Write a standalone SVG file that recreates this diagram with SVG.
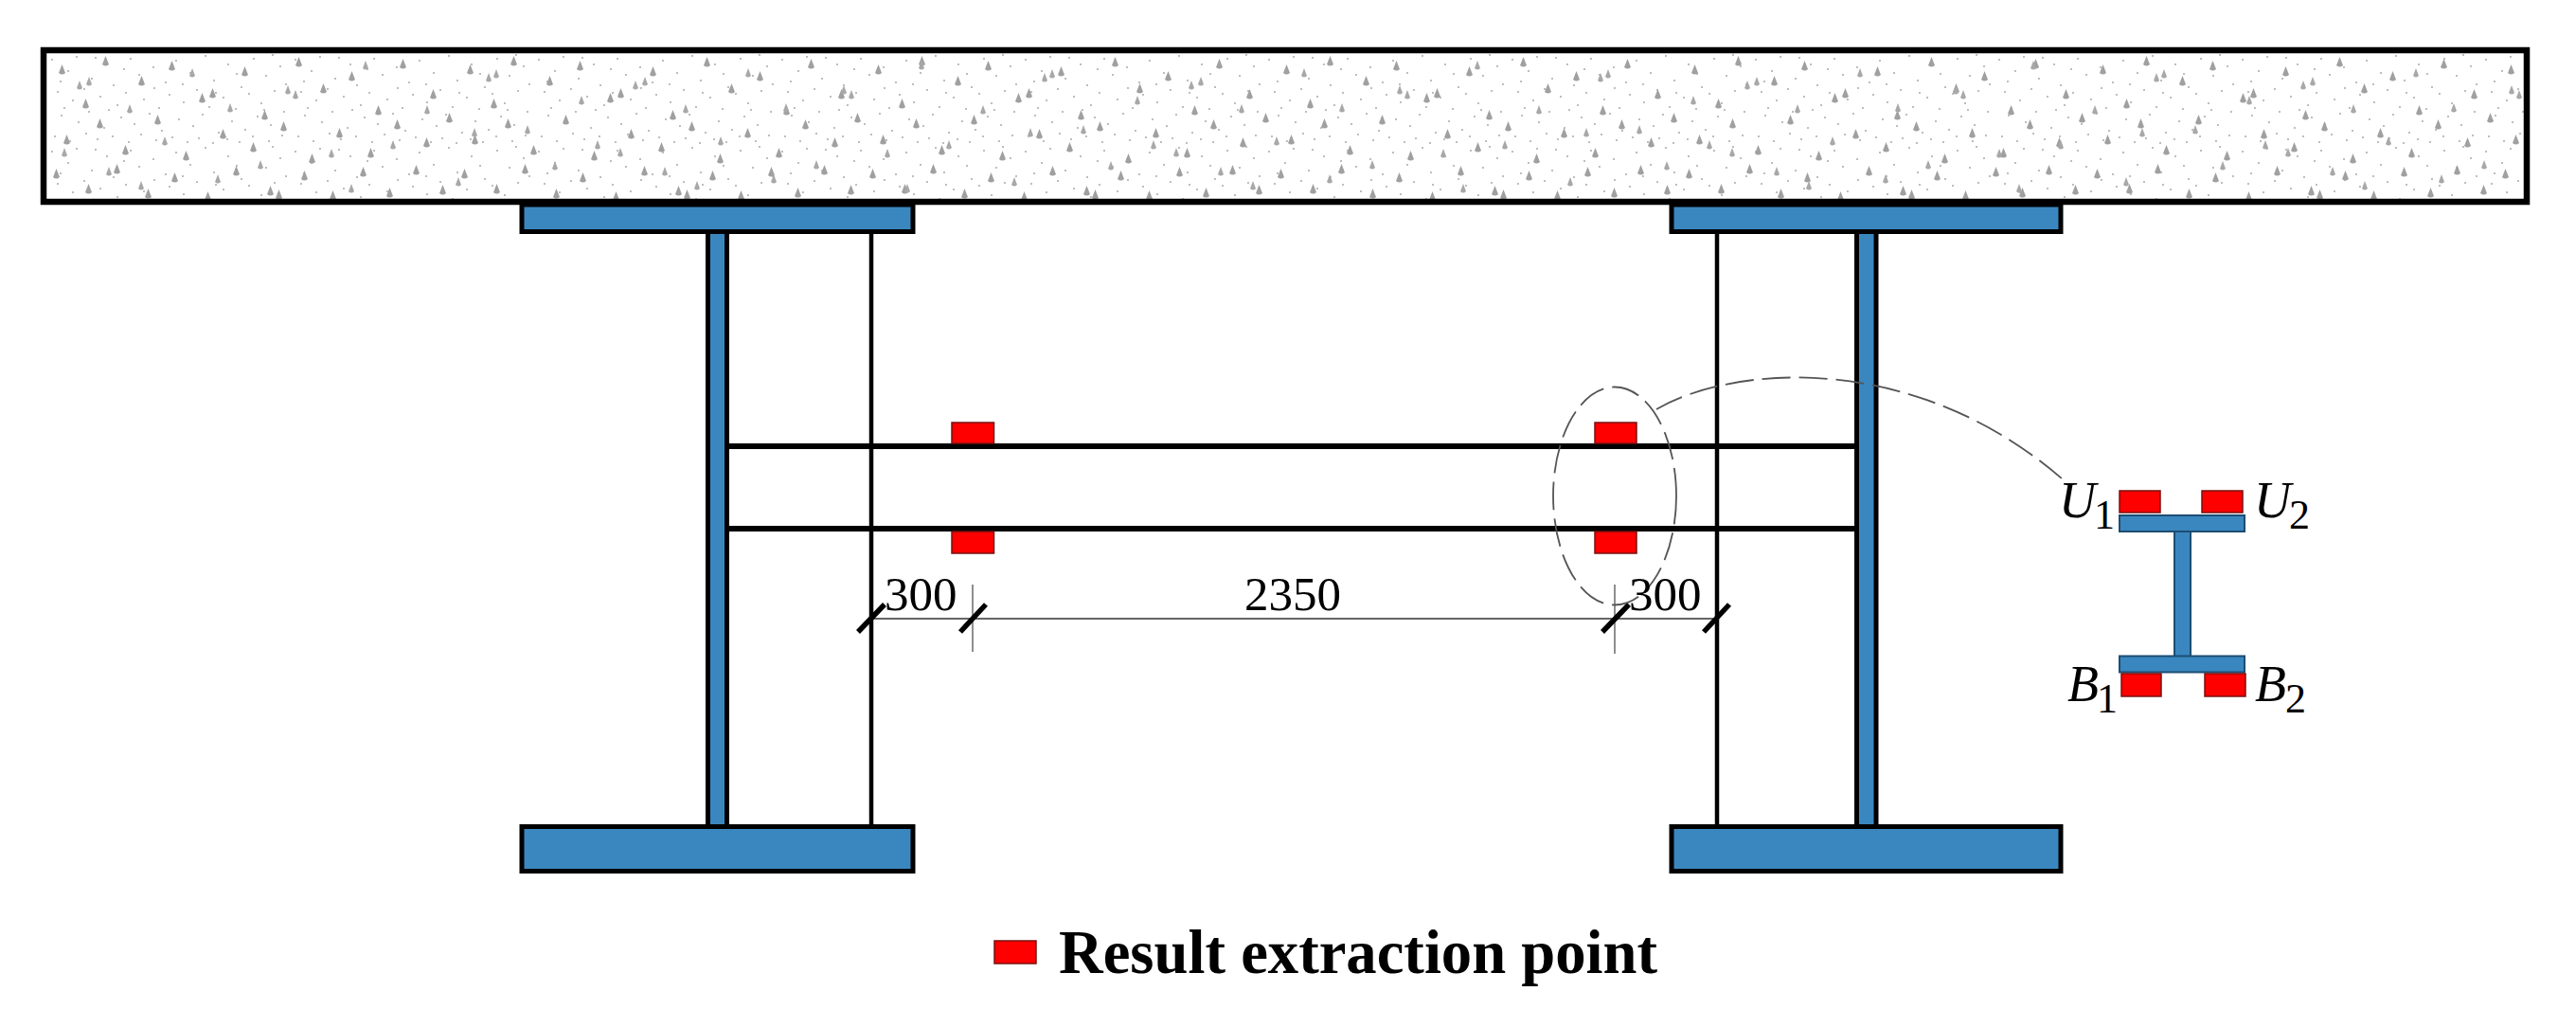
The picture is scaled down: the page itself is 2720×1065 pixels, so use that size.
<svg xmlns="http://www.w3.org/2000/svg" width="2720" height="1065" viewBox="0 0 2720 1065">
<style>
.steel{fill:#3a87c0;stroke:#000;stroke-width:5}
.web{fill:#3a87c0;stroke:#000;stroke-width:5}
.stiff{fill:none;stroke:#000;stroke-width:4.5}
.beam{fill:none;stroke:#000;stroke-width:6}
.pt{fill:#f00;stroke:#7a1010;stroke-width:1.5}
.sec{fill:#3a87c0;stroke:#1d4d72;stroke-width:2}
.dim{fill:none;stroke:#666;stroke-width:2}
.ext{fill:none;stroke:#444;stroke-width:1.2}
.tick{fill:none;stroke:#000;stroke-width:5.500}
.dash{fill:none;stroke:#555;stroke-width:1.8;stroke-dasharray:30 9}
text{font-family:"Liberation Serif","Times New Roman",serif;fill:#000}
.num{font-size:51px}
.sym{font-size:54px;font-style:italic}
.sub{font-size:44px}
.leg{font-size:66px;font-weight:bold}
</style>
<defs>
<pattern id="drops" width="431" height="160" patternUnits="userSpaceOnUse" patternTransform="translate(50 56)">
<path fill="#a0a0a0" d="M12 21l3.500-9 3.500 9q-3.500 3-7 0zM58 12l3.500-9 3.500 9q-3.500 3-7 0zM37 57l3.500-9 3.500 9q-3.500 3-7 0zM96 33l3.500-9 3.500 9q-3.500 3-7 0zM128 17l3.500-9 3.500 9q-3.500 3-7 0zM160 51l3.500-9 3.500 9q-3.500 3-7 0zM171 46l3.500-9 3.500 9q-3.500 3-7 0zM205 23l3.500-9 3.500 9q-3.500 3-7 0zM226 69l3.500-9 3.500 9q-3.500 3-7 0zM262 13l3.500-9 3.500 9q-3.500 3-7 0zM288 41l3.500-9 3.500 9q-3.500 3-7 0zM318 28l3.500-9 3.500 9q-3.500 3-7 0zM346 64l3.500-9 3.500 9q-3.500 3-7 0zM372 15l3.500-9 3.500 9q-3.500 3-7 0zM404 47l3.500-9 3.500 9q-3.500 3-7 0zM17 95l3.500-9 3.500 9q-3.500 3-7 0zM52 78l3.500-9 3.500 9q-3.500 3-7 0zM79 106l3.500-9 3.500 9q-3.500 3-7 0zM113 74l3.500-9 3.500 9q-3.500 3-7 0zM143 112l3.500-9 3.500 9q-3.500 3-7 0zM182 89l3.500-9 3.500 9q-3.500 3-7 0zM214 103l3.500-9 3.500 9q-3.500 3-7 0zM246 81l3.500-9 3.500 9q-3.500 3-7 0zM276 115l3.500-9 3.500 9q-3.500 3-7 0zM305 88l3.500-9 3.500 9q-3.500 3-7 0zM338 109l3.500-9 3.500 9q-3.500 3-7 0zM366 79l3.500-9 3.500 9q-3.500 3-7 0zM397 98l3.500-9 3.500 9q-3.500 3-7 0zM421 72l3.500-9 3.500 9q-3.500 3-7 0zM6 131l3.500-9 3.500 9q-3.500 3-7 0zM40 147l3.500-9 3.500 9q-3.500 3-7 0zM70 126l3.500-9 3.500 9q-3.500 3-7 0zM103 152l3.500-9 3.500 9q-3.500 3-7 0zM131 135l3.500-9 3.500 9q-3.500 3-7 0zM166 155l3.500-9 3.500 9q-3.500 3-7 0zM196 128l3.500-9 3.500 9q-3.500 3-7 0zM232 149l3.500-9 3.500 9q-3.500 3-7 0zM241 153l3.500-9 3.500 9q-3.500 3-7 0zM268 133l3.500-9 3.500 9q-3.500 3-7 0zM298 154l3.500-9 3.500 9q-3.500 3-7 0zM330 129l3.500-9 3.500 9q-3.500 3-7 0zM358 151l3.500-9 3.500 9q-3.500 3-7 0zM386 127l3.500-9 3.500 9q-3.500 3-7 0zM414 148l3.500-9 3.500 9q-3.500 3-7 0z"/>
</pattern>
<pattern id="drops2" width="587" height="160" patternUnits="userSpaceOnUse" patternTransform="translate(50 56)">
<path fill="#a8a8a8" d="M31 37l3-8 3 8q-3 3-6 0zM41 33l3-8 3 8q-3 3-6 0zM84 62l3-8 3 8q-3 3-6 0zM121 96l3-8 3 8q-3 3-6 0zM150 24l3-8 3 8q-3 3-6 0zM190 61l3-8 3 8q-3 3-6 0zM222 121l3-8 3 8q-3 3-6 0zM251 42l3-8 3 8q-3 3-6 0zM259 47l3-8 3 8q-3 3-6 0zM297 109l3-8 3 8q-3 3-6 0zM333 16l3-8 3 8q-3 3-6 0zM362 100l3-8 3 8q-3 3-6 0zM398 63l3-8 3 8q-3 3-6 0zM431 139l3-8 3 8q-3 3-6 0zM463 29l3-8 3 8q-3 3-6 0zM471 25l3-8 3 8q-3 3-6 0zM504 84l3-8 3 8q-3 3-6 0zM533 122l3-8 3 8q-3 3-6 0zM561 53l3-8 3 8q-3 3-6 0zM578 100l3-8 3 8q-3 3-6 0zM62 128l3-8 3 8q-3 3-6 0zM96 143l3-8 3 8q-3 3-6 0zM15 108l3-8 3 8q-3 3-6 0zM177 136l3-8 3 8q-3 3-6 0zM448 87l3-8 3 8q-3 3-6 0zM318 146l3-8 3 8q-3 3-6 0z"/>
</pattern>
<pattern id="dots" width="257" height="97" patternUnits="userSpaceOnUse" patternTransform="translate(50 56)">
<path fill="none" stroke="#a8a8a8" stroke-width="2" stroke-linecap="round" d="M5 7h0M22 19h0M31 4h0M47 27h0M63 12h0M70 34h0M88 6h0M97 23h0M112 15h0M125 31h0M136 8h0M151 21h0M167 3h0M176 29h0M191 12h0M205 36h0M218 6h0M231 24h0M246 14h0M252 33h0M11 41h0M27 50h0M39 38h0M56 46h0M74 55h0M83 42h0M102 49h0M118 58h0M129 44h0M144 52h0M158 39h0M171 57h0M186 47h0M199 59h0M213 43h0M226 53h0M240 40h0M15 66h0M33 73h0M44 62h0M60 79h0M78 68h0M92 75h0M108 64h0M121 82h0M139 70h0M154 77h0M164 65h0M181 84h0M195 72h0M209 81h0M222 67h0M236 76h0M250 62h0M8 88h0M24 93h0M41 85h0M53 91h0M69 88h0M86 94h0M99 86h0M115 92h0M132 89h0M148 94h0M160 90h0M175 95h0M190 91h0M203 94h0M217 88h0M234 93h0M248 87h0M14 30h0M51 5h0M81 17h0M143 33h0M200 22h0M238 2h0M18 58h0M65 60h0M113 37h0M178 42h0M229 60h0"/>
</pattern>
</defs>
<rect width="2720" height="1065" fill="#fff"/>

<g id="slab">
<rect x="46" y="53" width="2622" height="160" fill="#fff"/>
<rect x="46" y="53" width="2622" height="160" fill="url(#dots)"/>
<rect x="46" y="53" width="2622" height="160" fill="url(#drops)"/>
<rect x="46" y="53" width="2622" height="160" fill="url(#drops2)"/>
<rect x="46" y="53" width="2622" height="160" fill="none" stroke="#000" stroke-width="6.500"/>
</g>

<g id="girder-left">
<line class="stiff" x1="920" y1="244" x2="920" y2="873"/>
<rect class="web" x="747.500" y="244" width="20" height="629"/>
<rect class="steel" x="551" y="216" width="413" height="28.500"/>
<rect class="steel" x="551" y="872.500" width="413" height="47"/>
</g>

<g id="girder-right">
<line class="stiff" x1="1813" y1="244" x2="1813" y2="873"/>
<rect class="web" x="1960.500" y="244" width="20.500" height="629"/>
<rect class="steel" x="1765" y="216" width="411" height="28.500"/>
<rect class="steel" x="1765" y="872.500" width="411" height="47"/>
</g>

<g id="crossbeam">
<line class="beam" x1="768" y1="471" x2="1959" y2="471"/>
<line class="beam" x1="768" y1="558" x2="1959" y2="558"/>
</g>

<g id="extraction-points">
<rect class="pt" x="1005" y="446" width="44.500" height="22"/>
<rect class="pt" x="1684" y="446" width="44" height="22"/>
<rect class="pt" x="1005" y="561" width="44.500" height="23"/>
<rect class="pt" x="1684" y="561" width="44" height="23"/>
</g>

<g id="connectors">
<line class="dim" x1="919" y1="653" x2="1812" y2="653"/>
<line class="ext" x1="1027" y1="617" x2="1027" y2="688"/>
<line class="ext" x1="1705" y1="617" x2="1705" y2="690"/>
<path class="tick" d="M906 667L934 638M1014 667L1041 638M1692 667L1720 638M1799 667L1826 638"/>
<ellipse class="dash" cx="1705" cy="523.500" rx="65" ry="115"/>
<path class="dash" d="M1749 432C1830 385 2020 370 2177 505"/>
</g>

<g id="dimension-labels">
<text class="num" x="934" y="644">300</text>
<text class="num" x="1314" y="644">2350</text>
<text class="num" x="1720" y="644">300</text>
</g>

<g id="section">
<rect class="pt" x="2238" y="518" width="43" height="23"/>
<rect class="pt" x="2325" y="518" width="43" height="23"/>
<rect class="sec" x="2296" y="560" width="17" height="133"/>
<rect class="sec" x="2238" y="544" width="132" height="17"/>
<rect class="sec" x="2238" y="692.500" width="132" height="17"/>
<rect class="pt" x="2240" y="711" width="42" height="24"/>
<rect class="pt" x="2328" y="711" width="43" height="24"/>
<text class="sym" x="2174" y="546">U</text><text class="sub" x="2211" y="558">1</text>
<text class="sym" x="2380" y="546">U</text><text class="sub" x="2417" y="558">2</text>
<text class="sym" x="2183" y="740">B</text><text class="sub" x="2214" y="752">1</text>
<text class="sym" x="2381" y="740">B</text><text class="sub" x="2413" y="752">2</text>
</g>

<g id="legend">
<rect class="pt" x="1050" y="993" width="44" height="24"/>
<text class="leg" x="1118" y="1027" textLength="632" lengthAdjust="spacingAndGlyphs">Result extraction point</text>
</g>
</svg>
